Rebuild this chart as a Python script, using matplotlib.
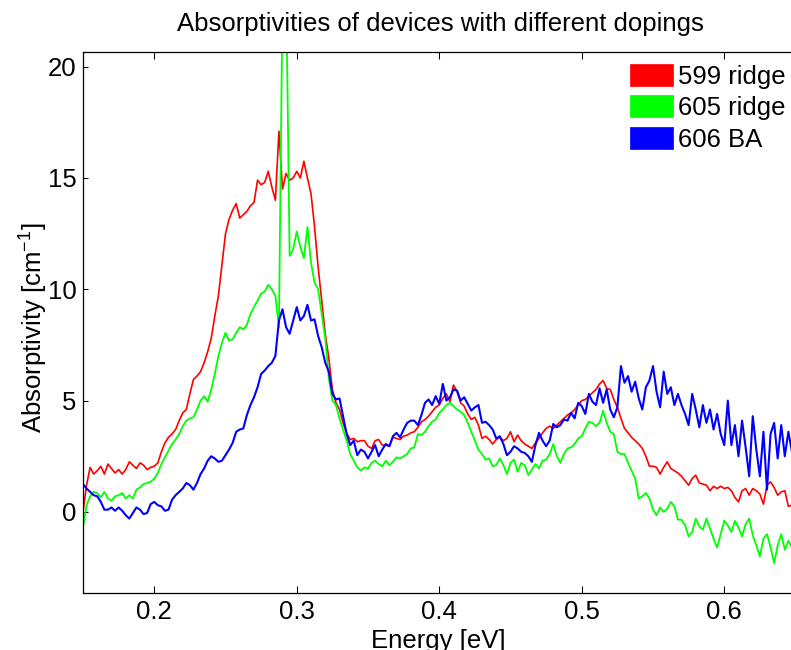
import numpy as np
import matplotlib
matplotlib.use("Agg")
import matplotlib.pyplot as plt
from matplotlib.patches import Patch

plt.rcParams['font.family'] = ['Liberation Sans', 'DejaVu Sans']
plt.rcParams['mathtext.fontset'] = 'custom'
plt.rcParams['mathtext.rm'] = 'Liberation Sans'
plt.rcParams['mathtext.it'] = 'Liberation Sans'

# Energy grid [eV]
energy = np.round(np.arange(0.15, 0.65001, 0.0025), 4)

labels = ["599 ridge", "605 ridge", "606 BA"]
colors = ["#ff0000", "#00ff00", "#0000ff"]

red_599 = [
    0.0, 1.2, 2.0, 1.7, 1.85, 2.05, 1.7, 2.15, 1.95, 1.75,
    1.9, 1.7, 1.9, 2.25, 2.1, 1.95, 2.2, 2.1, 1.9, 2.0,
    2.05, 2.2, 2.7, 3.1, 3.35, 3.5, 3.7, 4.1, 4.45, 4.6,
    5.3, 5.95, 6.1, 6.3, 6.7, 7.2, 7.8, 8.8, 9.7, 11.1,
    12.5, 13.15, 13.55, 13.85, 13.2, 13.35, 13.5, 13.75, 13.9, 14.9,
    14.7, 14.8, 15.3, 14.6, 14.0, 17.1, 14.5, 15.2, 14.9, 15.0,
    15.3, 15.0, 15.75, 15.0, 14.3, 12.8, 11.0, 9.5, 8.0, 6.9,
    5.5, 4.9, 4.6, 4.0, 3.55, 3.25, 3.3, 3.15, 3.2, 3.2,
    2.95, 2.85, 3.2, 3.25, 3.0, 3.0, 2.95, 3.35, 3.3, 3.25,
    3.4, 3.45, 3.55, 3.6, 3.8, 4.05, 4.15, 4.3, 4.5, 4.7,
    4.8, 5.1, 5.3, 4.95, 5.7, 5.4, 4.9, 4.75, 4.4, 4.15,
    4.25, 3.9, 3.3, 3.4, 3.25, 3.05, 3.25, 3.35, 3.2, 3.3,
    3.6, 3.15, 3.45, 3.2, 3.05, 2.95, 2.85, 3.1, 3.3, 3.55,
    3.75, 3.85, 3.75, 3.9, 4.05, 4.2, 4.35, 4.45, 4.6, 4.8,
    5.0, 5.05, 5.2, 5.35, 5.5, 5.75, 5.9, 5.55, 5.5, 5.05,
    4.7, 4.2, 3.75, 3.55, 3.35, 3.2, 3.05, 2.85, 2.5, 2.05,
    2.05, 2.0, 1.7, 2.0, 2.25, 1.95, 1.85, 1.75, 1.6, 1.4,
    1.2, 1.5, 1.65, 1.3, 1.25, 1.2, 0.95, 1.15, 1.05, 1.15,
    1.05, 1.1, 0.95, 0.65, 0.45, 0.95, 1.05, 0.75, 1.05, 0.95,
    0.8, 0.35, 1.2, 1.35, 1.1, 0.75, 0.9, 0.95, 0.25, 0.3,
    0.4,
]

green_605 = [
    -0.7, 0.3, 0.7, 0.9, 0.85, 0.65, 0.9, 0.6, 0.5, 0.7,
    0.75, 0.85, 0.6, 0.75, 0.6, 1.0, 1.1, 1.25, 1.3, 1.35,
    1.5, 1.75, 2.15, 2.45, 2.75, 3.05, 3.25, 3.5, 3.85, 4.1,
    4.2, 4.25, 4.6, 5.0, 5.2, 4.95, 5.5, 6.2, 7.0, 7.6,
    8.05, 7.7, 7.75, 8.05, 8.3, 8.2, 8.4, 8.9, 9.2, 9.5,
    9.8, 9.9, 10.2, 10.0, 9.7, 8.3, 23.0, 24.0, 11.5, 11.8,
    12.6, 11.9, 11.4, 12.8, 11.2, 10.3, 10.0, 8.9, 7.8, 6.0,
    5.0, 4.8, 4.2, 3.7, 3.2, 2.6, 2.3, 2.0, 1.85, 2.0,
    1.95, 2.2, 2.3, 2.15, 2.05, 2.3, 2.1, 2.25, 2.45, 2.4,
    2.5, 2.6, 2.85, 2.9, 3.5, 3.45, 3.6, 3.85, 4.05, 4.15,
    4.45, 4.6, 4.8, 4.9, 4.75, 4.6, 4.5, 4.35, 4.0, 3.6,
    3.2, 2.8, 2.6, 2.35, 2.4, 2.05, 2.1, 2.4, 2.1, 1.7,
    2.2, 2.35, 1.8, 2.2, 2.1, 1.65, 1.9, 2.15, 1.95, 2.3,
    2.35, 2.6, 3.05, 2.5, 2.2, 2.6, 2.85, 2.9, 3.05, 3.3,
    3.4, 3.75, 4.05, 4.0, 3.85, 4.0, 4.55, 4.0, 3.6, 3.5,
    2.7, 2.6, 2.6, 2.2, 1.85, 1.5, 0.6, 0.7, 0.85, 0.6,
    0.1, -0.15, 0.2, 0.0, 0.15, 0.45, 0.25, -0.35, -0.35, -0.6,
    -1.1, -0.9, -0.3, -0.65, -0.8, -0.3, -0.75, -1.2, -1.6, -1.0,
    -0.4, -0.6, -0.9, -0.4, -0.7, -1.1, -0.55, -0.3, -1.05, -1.5,
    -2.0, -1.2, -1.0, -1.6, -2.3, -1.5, -1.0, -1.7, -1.3, -1.6,
    -1.4,
]

blue_606 = [
    1.25, 1.05, 0.9, 0.75, 0.7, 0.45, 0.1, 0.1, 0.2, 0.05,
    0.2, 0.05, -0.15, -0.3, -0.05, 0.2, 0.1, -0.1, -0.05, 0.35,
    0.45, 0.3, 0.25, 0.05, 0.1, 0.55, 0.75, 0.9, 1.05, 1.3,
    1.2, 1.0, 1.3, 1.7, 1.95, 2.3, 2.5, 2.4, 2.25, 2.3,
    2.55, 2.8, 3.1, 3.6, 3.7, 3.75, 4.35, 4.8, 5.15, 5.6,
    6.2, 6.35, 6.55, 6.7, 7.0, 8.6, 9.1, 8.3, 8.0, 8.6,
    9.2, 8.6, 8.8, 9.3, 8.6, 8.65, 7.9, 7.4, 6.7, 6.3,
    5.3, 5.05, 5.1, 4.3, 3.5, 3.0, 3.2, 2.55, 2.8, 2.7,
    2.4, 2.7, 3.0, 2.5, 2.8, 3.05, 2.95, 3.4, 3.55, 3.35,
    3.7, 4.0, 4.1, 4.1, 3.9, 4.35, 4.9, 5.05, 4.8, 5.2,
    4.85, 5.75, 5.0, 5.15, 5.5, 5.45, 5.0, 5.15, 4.85, 4.55,
    4.7, 4.8, 4.0, 4.05, 3.9, 3.7, 3.3, 3.4, 3.05, 2.55,
    2.7, 2.95, 2.85, 2.7, 2.65, 2.5, 2.25, 3.0, 3.55, 3.2,
    2.95, 3.2, 3.95, 3.8, 3.9, 4.15, 4.1, 4.45, 4.2, 4.9,
    4.75, 4.4, 5.3, 4.95, 4.8, 5.55, 4.9, 5.5, 4.6, 4.25,
    4.7, 6.55, 5.8, 6.1, 5.4, 5.85, 5.1, 4.6, 5.6, 5.9,
    6.55, 5.4, 4.7, 6.3, 5.3, 5.6, 4.8, 5.3, 4.8, 4.4,
    3.9, 5.3, 4.6, 3.8, 4.8, 4.0, 4.6, 3.7, 4.4, 3.5,
    3.0, 5.0, 3.0, 3.9, 2.5, 4.1, 2.9, 1.6, 4.3, 2.8,
    1.6, 3.6, 1.0, 3.5, 4.0, 2.4, 3.9, 2.5, 3.6, 2.7,
    3.4,
]

series = [red_599, green_605, blue_606]
line_widths = [1.2, 1.3, 1.5]

W, H = 791, 650
FS = 18.5
fig = plt.figure(figsize=(W / 100, H / 100), dpi=100)
ax_left, ax_right, ax_top, ax_bottom = 83, 795.5, 52, 592.7
ax = fig.add_axes([ax_left / W, 1 - ax_bottom / H,
                   (ax_right - ax_left) / W, (ax_bottom - ax_top) / H])

for vals, col, lw in zip(series, colors, line_widths):
    ax.plot(energy, vals, color=col, lw=lw)

ax.set_xlim(0.15, 0.65)
ax.set_ylim(-3.63, 20.66)
ax.set_xticks([0.2, 0.3, 0.4, 0.5, 0.6])
ax.set_xticklabels(["0.2", "0.3", "0.4", "0.5", "0.6"])
ax.set_yticks([0, 5, 10, 15, 20])
ax.tick_params(axis='both', direction='in', top=True, right=True,
               labelsize=FS, width=0.75, colors='black')
ax.tick_params(axis='x', length=4.8, pad=5.5)
ax.tick_params(axis='y', length=3.6, pad=4.5)
for s in ax.spines.values():
    s.set_linewidth(0.9)

ax.set_xlabel("Energy [eV]", fontsize=FS)
ax.xaxis.set_label_coords(0.4985, -0.0677)
ax.set_ylabel("Absorptivity [cm$^{-1}$]", fontsize=FS)
ax.yaxis.set_label_coords(-0.046, 0.49)

fig.text(440.5 / W, 1 - 31 / H, "Absorptivities of devices with different dopings",
         ha='center', va='baseline', fontsize=FS)

handles = [Patch(facecolor=c, edgecolor=c, lw=0.5) for c in colors]
leg = ax.legend(handles, labels, loc='upper left',
                bbox_to_anchor=(630 / W, 1 - 64 / H), bbox_transform=fig.transFigure,
                frameon=False, fontsize=FS, handlelength=1.67, handleheight=0.93,
                handletextpad=0.2, labelspacing=0.26, borderpad=0, borderaxespad=0)

fig.savefig("out.png", dpi=100)
